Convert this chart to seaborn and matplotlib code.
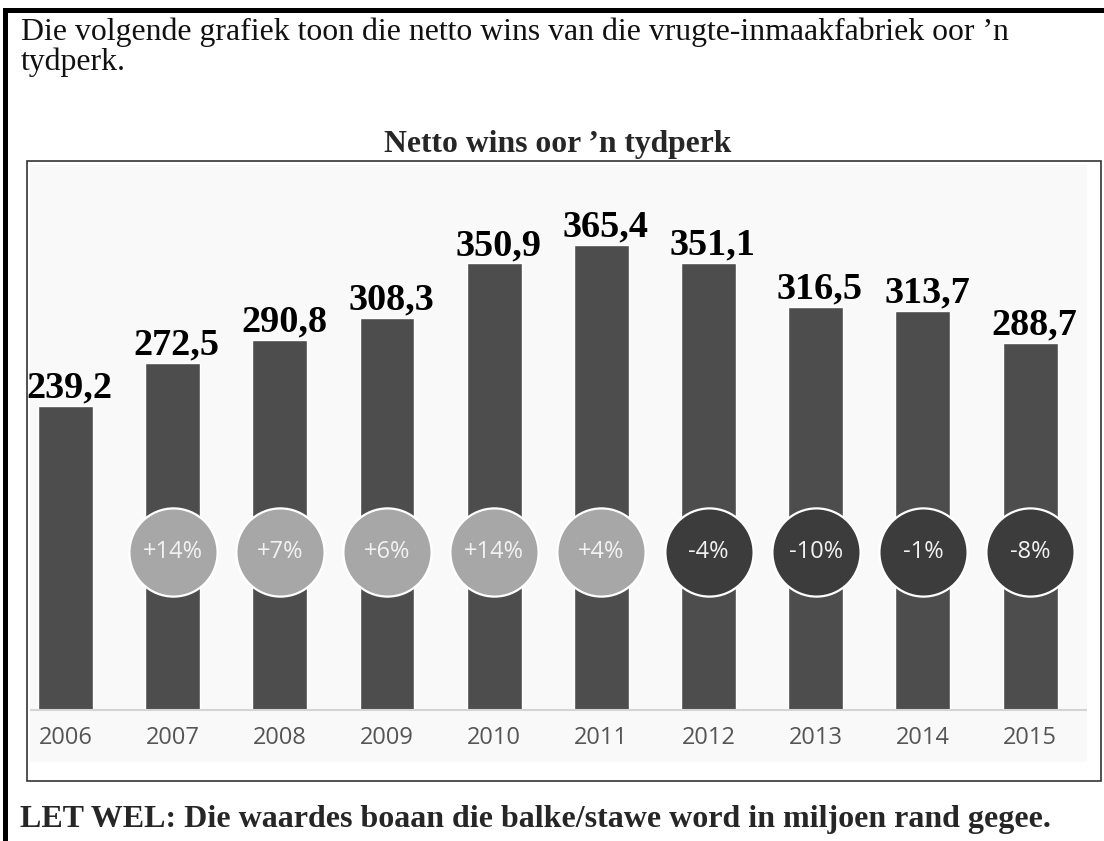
import matplotlib
matplotlib.use("Agg")
import matplotlib.pyplot as plt
import seaborn as sns
from matplotlib.patches import Rectangle

# data
years = ["2006", "2007", "2008", "2009", "2010", "2011", "2012", "2013", "2014", "2015"]
profit = [239.2, 272.5, 290.8, 308.3, 350.9, 365.4, 351.1, 316.5, 313.7, 288.7]
profit_labels = ["239,2", "272,5", "290,8", "308,3", "350,9", "365,4", "351,1", "316,5", "313,7", "288,7"]
change_labels = ["", "+14%", "+7%", "+6%", "+14%", "+4%", "-4%", "-10%", "-1%", "-8%"]

W, H = 1104, 841
serif = ["Liberation Serif", "DejaVu Serif"]
sans = ["Open Sans", "DejaVu Sans"]

sns.set_style("white")
fig = plt.figure(figsize=(W / 100, H / 100), dpi=100)
fig.patch.set_facecolor("white")


def fx(x):
    return x / W


def fy(y):
    return 1 - y / H


# page frame (thick black lines top and left)
fig.add_artist(Rectangle((fx(3), fy(13)), fx(1104 - 3), 5 / H, transform=fig.transFigure,
                         color="black", lw=0))
fig.add_artist(Rectangle((fx(3), 0), 5 / W, fy(8), transform=fig.transFigure,
                         color="black", lw=0))
# chart box
fig.add_artist(Rectangle((fx(27), fy(781)), fx(1101 - 27), (781 - 161) / H,
                         transform=fig.transFigure, fill=False, ec="#333333", lw=1.2))

# texts
fig.text(fx(21), fy(40), "Die volgende grafiek toon die netto wins van die vrugte-inmaakfabriek oor \u2019n",
         family=serif, fontsize=22.9, va="baseline", ha="left", color="#111111")
fig.text(fx(21), fy(70), "tydperk.", family=serif, fontsize=22.9, va="baseline", ha="left",
         color="#111111")
fig.text(fx(558), fy(152), "Netto wins oor \u2019n tydperk", family=serif, fontsize=22.8,
         fontweight="bold", ha="center", va="baseline")
fig.text(fx(20), fy(827), "LET WEL: Die waardes boaan die balke/stawe word in miljoen rand gegee.",
         family=serif, fontsize=23, fontweight="bold", ha="left", va="baseline")

# chart area
ax = fig.add_axes([fx(30), fy(762), (1087 - 30) / W, (762 - 165) / H])
ax.set_facecolor("#f9f9f9")
sns.barplot(x=years, y=profit, color="#4d4d4d", width=0.513, saturation=1, ax=ax)

px_per_unit = 465 / 365.4
slot = 107.2
ax.set_xlim(-(65.5 - 30) / slot, 9 + (1087 - 1030) / slot)
ax.set_ylim(-(762 - 710) / px_per_unit, (710 - 165) / px_per_unit)
ax.axhline(0, color="#d4d4d4", lw=1.5, zorder=1)

for s in ax.spines.values():
    s.set_visible(False)
ax.set_xticks([])
ax.set_yticks([])
ax.set_xlabel("")
ax.set_ylabel("")

year_y = -(738 - 710) / px_per_unit
circle_y = (710 - 552) / px_per_unit
for i, (yr, val, lab, ch) in enumerate(zip(years, profit, profit_labels, change_labels)):
    ax.text(i, year_y, yr, ha="center", va="center", family=sans, fontsize=17, color="#555555")
    ax.annotate(lab, (i, val), xytext=(3, 6), textcoords="offset points", ha="center",
                va="baseline", family=serif, fontsize=27.5, fontweight="bold", color="black")
    if ch:
        col = "#a7a7a7" if ch.startswith("+") else "#3c3c3c"
        ax.scatter([i], [circle_y], s=63.5 ** 2, color=col, edgecolor="white", linewidth=1.6,
                   zorder=3)
        ax.text(i, circle_y, ch, ha="center", va="center", family=sans, fontsize=17,
                color="#f2f2f2", zorder=4)

fig.savefig("out.png", dpi=100, facecolor="white")
